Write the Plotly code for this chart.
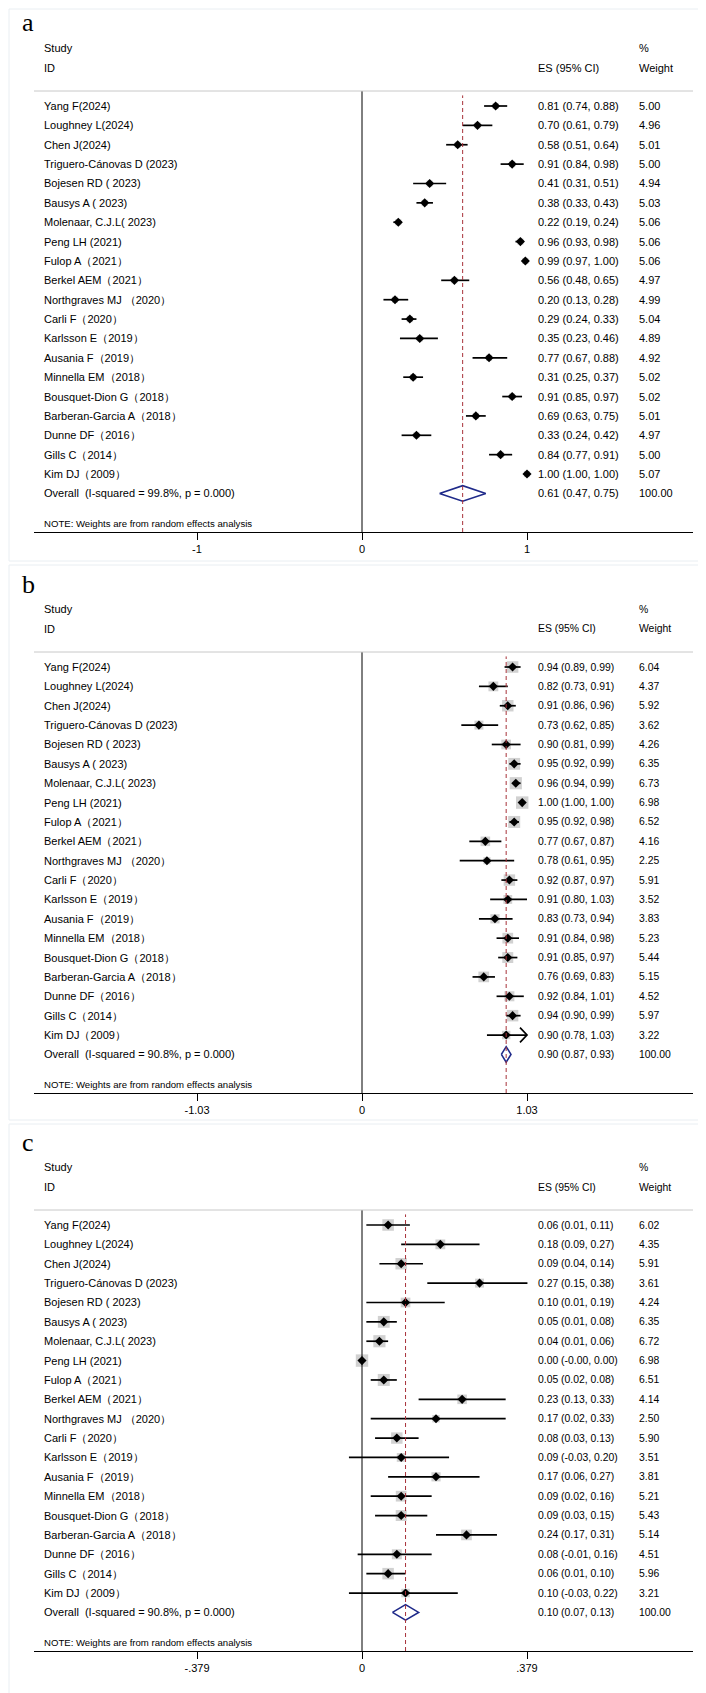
import plotly.graph_objects as go

# ---------------- data ----------------
studies = [
    "Yang F(2024)", "Loughney L(2024)", "Chen J(2024)", "Triguero-Cánovas D (2023)",
    "Bojesen RD ( 2023)", "Bausys A ( 2023)", "Molenaar, C.J.L( 2023)", "Peng LH (2021)",
    "Fulop A（2021）", "Berkel AEM（2021）", "Northgraves MJ （2020）", "Carli F（2020）",
    "Karlsson E（2019）", "Ausania F（2019）", "Minnella EM（2018）", "Bousquet-Dion G（2018）",
    "Barberan-Garcia A（2018）", "Dunne DF（2016）", "Gills C（2014）", "Kim DJ（2009）",
]

# panel a
es_a = [0.81, 0.70, 0.58, 0.91, 0.41, 0.38, 0.22, 0.96, 0.99, 0.56,
        0.20, 0.29, 0.35, 0.77, 0.31, 0.91, 0.69, 0.33, 0.84, 1.00]
lo_a = [0.74, 0.61, 0.51, 0.84, 0.31, 0.33, 0.19, 0.93, 0.97, 0.48,
        0.13, 0.24, 0.23, 0.67, 0.25, 0.85, 0.63, 0.24, 0.77, 1.00]
hi_a = [0.88, 0.79, 0.64, 0.98, 0.51, 0.43, 0.24, 0.98, 1.00, 0.65,
        0.28, 0.33, 0.46, 0.88, 0.37, 0.97, 0.75, 0.42, 0.91, 1.00]
w_a = [5.00, 4.96, 5.01, 5.00, 4.94, 5.03, 5.06, 5.06, 5.06, 4.97,
       4.99, 5.04, 4.89, 4.92, 5.02, 5.02, 5.01, 4.97, 5.00, 5.07]
overall_a = [0.61, 0.47, 0.75]
overall_w_a = 100.00
i2_a = "99.8%"

# panel b
es_b = [0.94, 0.82, 0.91, 0.73, 0.90, 0.95, 0.96, 1.00, 0.95, 0.77,
        0.78, 0.92, 0.91, 0.83, 0.91, 0.91, 0.76, 0.92, 0.94, 0.90]
lo_b = [0.89, 0.73, 0.86, 0.62, 0.81, 0.92, 0.94, 1.00, 0.92, 0.67,
        0.61, 0.87, 0.80, 0.73, 0.84, 0.85, 0.69, 0.84, 0.90, 0.78]
hi_b = [0.99, 0.91, 0.96, 0.85, 0.99, 0.99, 0.99, 1.00, 0.98, 0.87,
        0.95, 0.97, 1.03, 0.94, 0.98, 0.97, 0.83, 1.01, 0.99, 1.03]
w_b = [6.04, 4.37, 5.92, 3.62, 4.26, 6.35, 6.73, 6.98, 6.52, 4.16,
       2.25, 5.91, 3.52, 3.83, 5.23, 5.44, 5.15, 4.52, 5.97, 3.22]
overall_b = [0.90, 0.87, 0.93]
overall_w_b = 100.00
i2_b = "90.8%"
arrows_b = [19]  # rows whose CI is drawn with an arrow head

# panel c
es_c = [0.06, 0.18, 0.09, 0.27, 0.10, 0.05, 0.04, 0.00, 0.05, 0.23,
        0.17, 0.08, 0.09, 0.17, 0.09, 0.09, 0.24, 0.08, 0.06, 0.10]
lo_c = [0.01, 0.09, 0.04, 0.15, 0.01, 0.01, 0.01, -0.001, 0.02, 0.13,
        0.02, 0.03, -0.03, 0.06, 0.02, 0.03, 0.17, -0.01, 0.01, -0.03]
hi_c = [0.11, 0.27, 0.14, 0.38, 0.19, 0.08, 0.06, 0.001, 0.08, 0.33,
        0.33, 0.13, 0.20, 0.27, 0.16, 0.15, 0.31, 0.16, 0.10, 0.22]
w_c = [6.02, 4.35, 5.91, 3.61, 4.24, 6.35, 6.72, 6.98, 6.51, 4.14,
       2.50, 5.90, 3.51, 3.81, 5.21, 5.43, 5.14, 4.51, 5.96, 3.21]
overall_c = [0.10, 0.07, 0.13]
overall_w_c = 100.00
i2_c = "90.8%"

tick_units = [1.0, 1.03, 0.379]
tick_labels = [["-1", "0", "1"], ["-1.03", "0", "1.03"], ["-.379", "0", ".379"]]
panel_letters = ["a", "b", "c"]

panels = [
    dict(es=es_a, lo=lo_a, hi=hi_a, w=w_a, ov=overall_a, ov_w=overall_w_a, i2=i2_a,
         arrows=[], box_k=2.7, es_font=11),
    dict(es=es_b, lo=lo_b, hi=hi_b, w=w_b, ov=overall_b, ov_w=overall_w_b, i2=i2_b,
         arrows=arrows_b, box_k=4.7, es_font=10.4),
    dict(es=es_c, lo=lo_c, hi=hi_c, w=w_c, ov=overall_c, ov_w=overall_w_c, i2=i2_c,
         arrows=[], box_k=4.7, es_font=10.4),
]

# ---------------- layout constants (pixels) ----------------
W, H = 706, 1693
offsets = [0, 561, 1119]
X_LEFT, X_RIGHT, X_ZERO, PX_PER_TICK = 26, 685, 354, 165
Y_TOP, Y_AXIS, Y_ROW0, ROW_H = 83, 524, 98, 19.37
COL_LABEL, COL_ES, COL_W = 34, 528, 629

FONT = "Arial, Liberation Sans, sans-serif"
BLACK = "#000000"
NAVY = "#1f2a8a"
RED = "#a8323a"
GRAY_BOX = "#bdbdbd"

fig = go.Figure()
annotations = []
shapes = []
layout_axes = {}


def row_of(px, oy):
    return (px - oy - Y_ROW0) / ROW_H


def ptxt(x_px, y_px, s, size=11, family=FONT):
    annotations.append(dict(
        x=x_px / W, xref="paper", y=1 - y_px / H, yref="paper", text=s, showarrow=False,
        xanchor="left", yanchor="middle", font=dict(family=family, size=size, color=BLACK),
    ))


for p, (pan, oy) in enumerate(zip(panels, offsets)):
    n = p + 1
    xa = "x" if n == 1 else f"x{n}"
    ya = "y" if n == 1 else f"y{n}"
    u = tick_units[p]
    rows = list(range(len(studies)))
    ov_row = len(studies)

    # axes
    layout_axes[f"xaxis{'' if n == 1 else n}"] = dict(
        domain=[X_LEFT / W, X_RIGHT / W],
        range=[(X_LEFT - X_ZERO) / PX_PER_TICK * u, (X_RIGHT - X_ZERO) / PX_PER_TICK * u],
        anchor=ya, showline=True, linecolor=BLACK, linewidth=1,
        ticks="outside", ticklen=7, tickcolor=BLACK, tickwidth=1,
        tickvals=[-u, 0, u], ticktext=tick_labels[p],
        tickfont=dict(family=FONT, size=11, color=BLACK),
        showgrid=False, zeroline=False, fixedrange=True,
    )
    layout_axes[f"yaxis{'' if n == 1 else n}"] = dict(
        domain=[1 - (oy + Y_AXIS) / H, 1 - (oy + Y_TOP) / H],
        range=[row_of(oy + Y_AXIS, oy), row_of(oy + Y_TOP, oy)],
        anchor=xa, visible=False, showgrid=False, zeroline=False, fixedrange=True,
    )

    # weight boxes
    fig.add_trace(go.Scatter(
        x=pan["es"], y=rows, mode="markers", xaxis=xa, yaxis=ya,
        marker=dict(symbol="square", color=GRAY_BOX,
                    size=[pan["box_k"] * (w ** 0.5) for w in pan["w"]], line=dict(width=0)),
        hoverinfo="skip", showlegend=False,
    ))
    # CI lines
    cx, cy = [], []
    for r, lo, hi in zip(rows, pan["lo"], pan["hi"]):
        cx += [lo, hi, None]
        cy += [r, r, None]
    fig.add_trace(go.Scatter(
        x=cx, y=cy, mode="lines", xaxis=xa, yaxis=ya,
        line=dict(color=BLACK, width=1.7), hoverinfo="skip", showlegend=False,
    ))
    # arrow heads
    ax_, ay_ = [], []
    dx = 7 / PX_PER_TICK * u
    for r in pan["arrows"]:
        hi = pan["hi"][r]
        ax_ += [hi - dx, hi, hi - dx, None]
        ay_ += [r - 0.38, r, r + 0.38, None]
    if ax_:
        fig.add_trace(go.Scatter(
            x=ax_, y=ay_, mode="lines", xaxis=xa, yaxis=ya,
            line=dict(color=BLACK, width=1.7), hoverinfo="skip", showlegend=False,
        ))
    # point estimates
    fig.add_trace(go.Scatter(
        x=pan["es"], y=rows, mode="markers", xaxis=xa, yaxis=ya,
        marker=dict(symbol="diamond", color=BLACK, size=7, line=dict(width=0)),
        hoverinfo="skip", showlegend=False,
    ))
    # overall diamond
    est, lo, hi = pan["ov"]
    fig.add_trace(go.Scatter(
        x=[lo, est, hi, est, lo], y=[ov_row, ov_row - 0.4, ov_row, ov_row + 0.4, ov_row],
        mode="lines", xaxis=xa, yaxis=ya, line=dict(color=NAVY, width=1.6),
        hoverinfo="skip", showlegend=False,
    ))

    # shapes: zero line, overall dashed line, header rule, panel border
    shapes.append(dict(type="line", xref=xa, yref=f"{ya} domain", x0=0, x1=0, y0=0, y1=1,
                       line=dict(color=BLACK, width=1)))
    shapes.append(dict(type="line", xref=xa, yref=f"{ya} domain", x0=est, x1=est, y0=0, y1=0.99,
                       line=dict(color=RED, width=1, dash="4px,3px")))
    shapes.append(dict(type="line", xref=f"{xa} domain", yref=f"{ya} domain", x0=0, x1=1, y0=1, y1=1,
                       line=dict(color="#c8c8c8", width=1)))
    border_bottom = [553, 1112, 1690][p]
    border_top = [1, 557, 1116][p]
    shapes.append(dict(type="rect", xref="paper", yref="paper",
                       x0=1 / W, x1=704 / W, y0=1 - border_bottom / H, y1=1 - border_top / H,
                       line=dict(color="#e9eef2", width=1), fillcolor="rgba(0,0,0,0)", layer="below"))

    def txt(x_px, r, s, size=11):
        annotations.append(dict(
            x=x_px / W, xref="paper", y=r, yref=ya, text=s, showarrow=False,
            xanchor="left", yanchor="middle", font=dict(family=FONT, size=size, color=BLACK),
        ))

    # panel letter
    ptxt(12, oy + 15, panel_letters[p], size=26, family="Liberation Serif, Times New Roman, serif")
    # headers
    ptxt(COL_LABEL, oy + 40, "Study")
    ptxt(COL_LABEL, oy + 60, "ID")
    ptxt(COL_ES, oy + 60, "ES (95% CI)", size=pan["es_font"])
    ptxt(COL_W, oy + 40, "%", size=pan["es_font"])
    ptxt(COL_W, oy + 60, "Weight", size=pan["es_font"])

    # rows
    for r, name in enumerate(studies):
        txt(COL_LABEL, r, name)
        txt(COL_ES, r, f"{pan['es'][r]:.2f} ({pan['lo'][r]:.2f}, {pan['hi'][r]:.2f})", size=pan["es_font"])
        txt(COL_W, r, f"{pan['w'][r]:.2f}", size=pan["es_font"])
    txt(COL_LABEL, ov_row, f"Overall  (I-squared = {pan['i2']}, p = 0.000)")
    txt(COL_ES, ov_row, f"{est:.2f} ({lo:.2f}, {hi:.2f})", size=pan["es_font"])
    txt(COL_W, ov_row, f"{pan['ov_w']:.2f}", size=pan["es_font"])
    ptxt(COL_LABEL, oy + 515, "NOTE: Weights are from random effects analysis", size=9.6)

fig.update_layout(
    width=W, height=H, margin=dict(l=0, r=0, t=0, b=0),
    paper_bgcolor="white", plot_bgcolor="white",
    showlegend=False, annotations=annotations, shapes=shapes,
    **layout_axes,
)

fig.write_html("out.html")
